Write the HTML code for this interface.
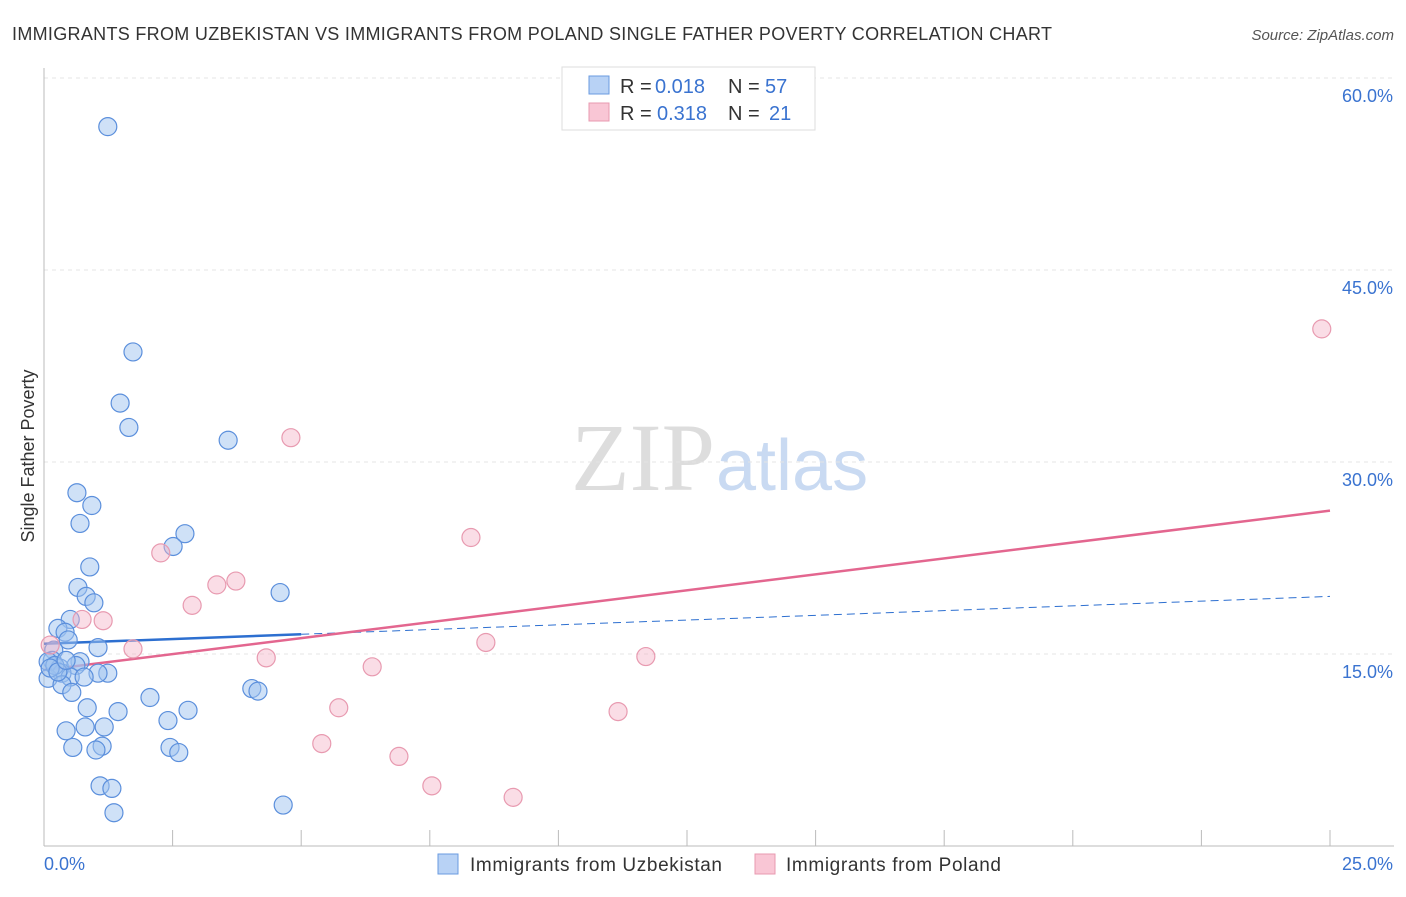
<!DOCTYPE html>
<html><head><meta charset="utf-8"><style>
body{margin:0;background:#fff;font-family:"Liberation Sans",sans-serif;}
</style></head><body>
<svg width="1406" height="892" xmlns="http://www.w3.org/2000/svg" id="chart">
<text x="12" y="40" font-size="18" fill="#333" textLength="1040">IMMIGRANTS FROM UZBEKISTAN VS IMMIGRANTS FROM POLAND SINGLE FATHER POVERTY CORRELATION CHART</text>
<text x="1394" y="40" font-size="15" fill="#555" text-anchor="end" font-style="italic">Source: ZipAtlas.com</text>
<text x="715" y="490" font-size="96" fill="#ddd" text-anchor="end" font-family="Liberation Serif,serif">ZIP</text>
<text x="716" y="490" font-size="72" fill="#c9daf2">atlas</text>
<text x="34" y="456" font-size="18" fill="#333" text-anchor="middle" transform="rotate(-90 34 456)">Single Father Poverty</text>
<g id="grid"></g><g id="lines"></g><g id="pts"></g>
<g>
<rect x="562" y="67" width="253" height="63" fill="#fff" stroke="#ddd"/>
<rect x="589" y="76" width="20" height="18" fill="#b8d2f5" stroke="#6a9be0"/>
<rect x="589" y="103" width="20" height="18" fill="#f9c6d5" stroke="#e89ab0"/>
<text x="620" y="93" font-size="20" fill="#333">R =</text>
<text x="655" y="93" font-size="20" fill="#3a73d0">0.018</text>
<text x="728" y="93" font-size="20" fill="#333">N =</text>
<text x="765" y="93" font-size="20" fill="#3a73d0">57</text>
<text x="620" y="120" font-size="20" fill="#333">R =</text>
<text x="657" y="120" font-size="20" fill="#3a73d0">0.318</text>
<text x="728" y="120" font-size="20" fill="#333">N =</text>
<text x="769" y="120" font-size="20" fill="#3a73d0">21</text>
</g>
<g>
<rect x="438" y="854" width="20" height="20" fill="#b8d2f5" stroke="#6a9be0"/>
<text x="470" y="871" font-size="19" fill="#333" textLength="252">Immigrants from Uzbekistan</text>
<rect x="755" y="854" width="20" height="20" fill="#f9c6d5" stroke="#e89ab0"/>
<text x="786" y="871" font-size="19" fill="#333" textLength="215">Immigrants from Poland</text>
</g>
</svg>
<script>
const blueX=[1.24,1.73,1.48,1.65,3.58,0.64,0.93,0.70,2.74,2.51,0.89,0.66,0.82,0.97,4.59,0.51,0.27,0.41,0.47,1.05,0.19,0.16,0.08,0.31,0.70,0.62,1.24,1.05,0.35,0.51,0.78,0.08,0.35,0.54,4.04,4.16,2.06,2.80,0.84,1.44,2.41,0.80,1.17,0.43,0.56,1.13,1.01,2.45,2.62,1.09,1.32,1.36,4.65,0.21,0.12,0.27,0.43];
const blueY=[56.2,38.6,34.6,32.7,31.7,27.6,26.6,25.2,24.4,23.4,21.8,20.2,19.5,19.0,19.8,17.7,17.0,16.7,16.1,15.5,15.3,14.5,14.4,13.9,14.4,14.1,13.5,13.5,13.5,13.2,13.2,13.1,12.6,12.0,12.3,12.1,11.6,10.6,10.8,10.5,9.8,9.3,9.3,9.0,7.7,7.8,7.5,7.7,7.3,4.7,4.5,2.6,3.2,14.1,13.9,13.6,14.5];
const pinkX=[24.84,4.80,8.30,2.27,3.73,3.36,2.88,0.74,1.15,1.73,8.59,11.70,4.32,6.38,5.73,11.16,5.40,6.90,7.54,9.12,0.12];
const pinkY=[40.4,31.9,24.1,22.9,20.7,20.4,18.8,17.7,17.6,15.4,15.9,14.8,14.7,14.0,10.8,10.5,8.0,7.0,4.7,3.8,15.7];
const yTicks=[15,30,45,60];
const yTickLabels=["15.0%","30.0%","45.0%","60.0%"];
const xTicks=[0,2.5,5,7.5,10,12.5,15,17.5,20,22.5,25];
const blueTrend=[15.8,0.148], pinkTrend=[13.75,0.498];
const NS="http://www.w3.org/2000/svg";
const X=v=>44+v*51.44, Y=v=>846-v*12.8;
function mk(t,a,p){const e=document.createElementNS(NS,t);for(const k in a)e.setAttribute(k,a[k]);document.getElementById(p).appendChild(e);return e;}
yTicks.forEach((t,i)=>{
 const l=mk('line',{x1:44,x2:1394,y1:Y(t),y2:Y(t),stroke:'#e4e4e4','stroke-dasharray':'4,4'},'grid');
 
 
 const tx=mk('text',{x:1393,y:Y(t)+24,'font-size':18,fill:'#3a73d0','text-anchor':'end'},'grid');
 tx.textContent=yTickLabels[i];
 
 
});
const ax=mk('line',{x1:44,x2:1394,y1:846,y2:846,stroke:'#bbb'},'grid');


const ay=mk('line',{x1:44,x2:44,y1:68,y2:846,stroke:'#bbb'},'grid');


xTicks.forEach(t=>{
 const l=mk('line',{x1:X(t),x2:X(t),y1:830,y2:846,stroke:'#bbb'},'grid');
 
 
});
const xl0=mk('text',{x:44,y:870,'font-size':18,fill:'#3a73d0'},'grid');xl0.textContent='0.0%';


const xl1=mk('text',{x:1393,y:870,'font-size':18,fill:'#3a73d0','text-anchor':'end'},'grid');xl1.textContent='25.0%';


const bf=x=>blueTrend[0]+blueTrend[1]*x, pf=x=>pinkTrend[0]+pinkTrend[1]*x;
const b1=mk('line',{x1:X(0),y1:Y(bf(0)),x2:X(5),y2:Y(bf(5)),stroke:'#2d6fd0','stroke-width':2.5},'lines');


const b2=mk('line',{x1:X(5),y1:Y(bf(5)),x2:X(25),y2:Y(bf(25)),stroke:'#2d6fd0','stroke-width':1,'stroke-dasharray':'8,5'},'lines');


const p1=mk('line',{x1:X(0),y1:Y(pf(0)),x2:X(25),y2:Y(pf(25)),stroke:'#e3668f','stroke-width':2.5},'lines');


blueX.forEach((x,i)=>{
 const c=mk('circle',{cx:X(x),cy:Y(blueY[i]),r:9,fill:'rgba(160,196,240,0.5)',stroke:'#5b8fdc','stroke-width':1.2},'pts');
 
 
});
pinkX.forEach((x,i)=>{
 const c=mk('circle',{cx:X(x),cy:Y(pinkY[i]),r:9,fill:'rgba(245,180,200,0.45)',stroke:'#e89ab0','stroke-width':1.2},'pts');
 
 
});
</script>
</body></html>
